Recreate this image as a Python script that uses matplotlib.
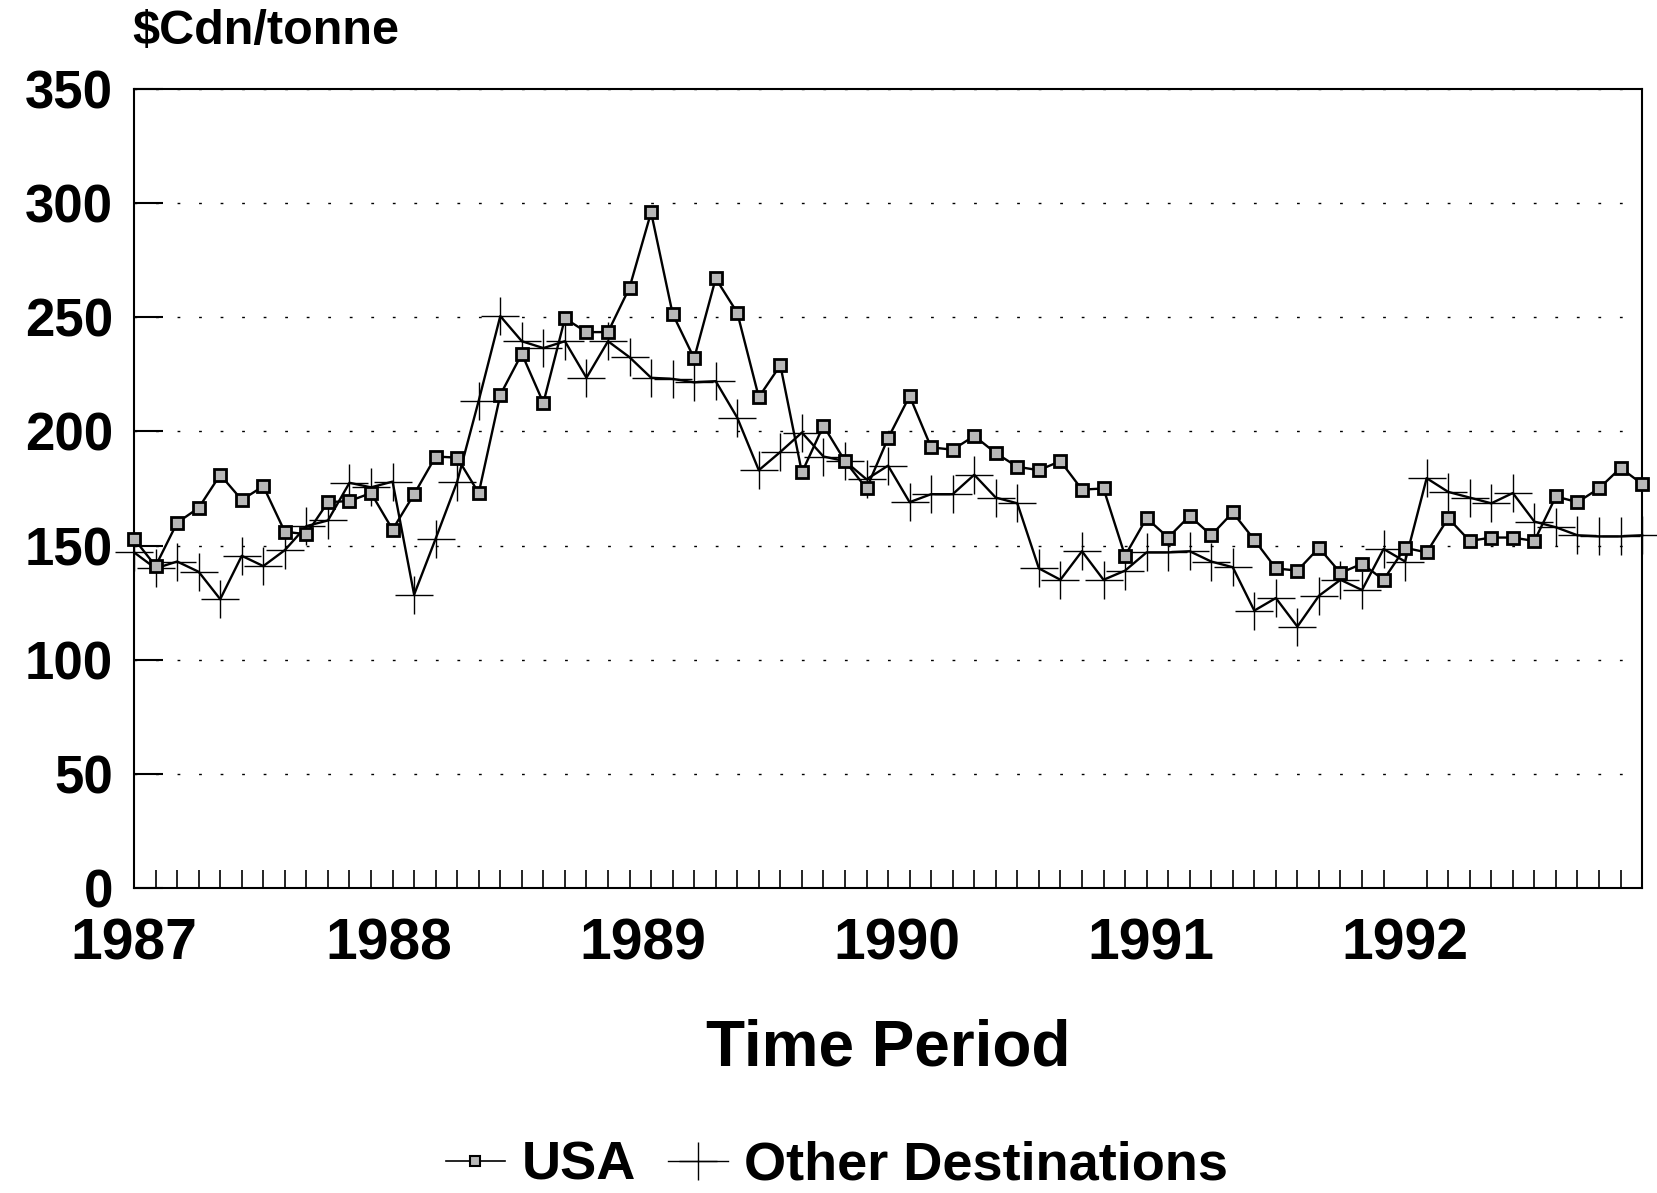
import numpy as np
import matplotlib.pyplot as plt
from matplotlib.lines import Line2D

# monthly export prices, Jan 1987 - Nov 1992 ($Cdn/tonne)
usa = [153, 141, 160, 166.5, 181, 170, 176, 156, 155, 169, 169.5, 173, 157,
       172.5, 189, 188.5, 173, 216, 234, 212.5, 249.5, 243.5, 243.5, 263, 296,
       251.5, 232, 267, 252, 215, 229, 182, 202.5, 187, 175, 197, 215.5,
       193, 192, 198, 190.5, 184.5, 183, 187, 174.5, 175, 145.5, 162, 153.5,
       163, 154.5, 164.5, 152.5, 140, 139, 149, 138, 142, 135, 149,
       147, 162, 152, 153.5, 153.5, 152, 171.5, 169, 175, 184, 177]

other = [147, 140, 143, 138.5, 126.5, 145.5, 141, 148, 158.5, 161, 177.5, 175.5, 178,
         128.5, 153, 178, 213.5, 250.5, 239.5, 236.5, 239.5, 223.5, 239.5, 232.5, 223.5,
         223, 221.5, 222, 206, 183, 191, 199.5, 189, 187, 179, 185, 169,
         172.5, 172.5, 181, 171, 168.5, 140, 135, 147.5, 135, 139, 147, 147,
         147.5, 143, 140.5, 121.5, 127, 114.5, 128, 135, 130.5, 148.5, 143,
         179.5, 173.5, 171, 168.5, 173, 160.5, 158, 154.5, 154, 154, 154.5]

years = ["1987", "1988", "1989", "1990", "1991", "1992"]
year_pos = [0, 11.8, 23.6, 35.4, 47.2, 59.0]
y_ticks = [0, 50, 100, 150, 200, 250, 300, 350]

plt.rcParams["font.family"] = ["Liberation Sans", "DejaVu Sans"]
plt.rcParams["font.weight"] = "bold"

months = np.arange(len(usa))

fig = plt.figure(figsize=(16.57, 11.93), dpi=100)
ax = fig.add_axes([0.0809, 0.2557, 0.9101, 0.6697])

ax.plot(months, other, color="black", lw=1.7, marker="+", ms=27, mew=1.0,
        zorder=3, clip_on=False)
ax.plot(months, usa, color="black", lw=1.7, marker="s", ms=8, mfc="#b8b8b8",
        mec="black", mew=2.0, zorder=4, clip_on=False)

ax.set_xlim(0, len(usa) - 1)
ax.set_ylim(0, 350)

# y axis
ax.set_yticks(y_ticks)
ax.set_yticklabels([str(v) for v in y_ticks], fontsize=38, fontweight="bold")
ax.tick_params(axis="y", direction="in", length=21, width=1.5, pad=15)
ax.yaxis.grid(True, linestyle=(0, (2, 13.5)), color="black", lw=1.0)

# x axis
ax.set_xticks(year_pos)
ax.set_xticklabels(years, fontsize=41, fontweight="bold")
ax.set_xticks(months[1:-1], minor=True)
ax.tick_params(axis="x", which="major", length=0, pad=21)
ax.tick_params(axis="x", which="minor", direction="in", length=13, width=1.2)

for s in ax.spines.values():
    s.set_linewidth(1.5)

ax.set_xlabel("Time Period", fontsize=46, fontweight="bold")
ax.xaxis.set_label_coords(0.5, -0.163)
ax.xaxis.label.set_va("top")

fig.text(0.0797, 0.963, "$Cdn/tonne", fontsize=35, fontweight="bold",
         ha="left", va="baseline")

handles = [
    Line2D([], [], color="black", lw=1.2, marker="s", ms=7, mfc="#b8b8b8",
           mec="black", mew=1.5),
    Line2D([], [], color="black", lw=1.0, marker="+", ms=27, mew=1.0),
]
fig.legend(handles, ["USA", "Other Destinations"], loc="lower center",
           bbox_to_anchor=(0.505, 0.002), ncol=2, frameon=False,
           prop={"size": 39, "weight": "bold"}, handlelength=1.1,
           handletextpad=0.3, columnspacing=0.6, borderpad=0,
           borderaxespad=0.0)

fig.savefig("out.png", dpi=100, facecolor="white")
